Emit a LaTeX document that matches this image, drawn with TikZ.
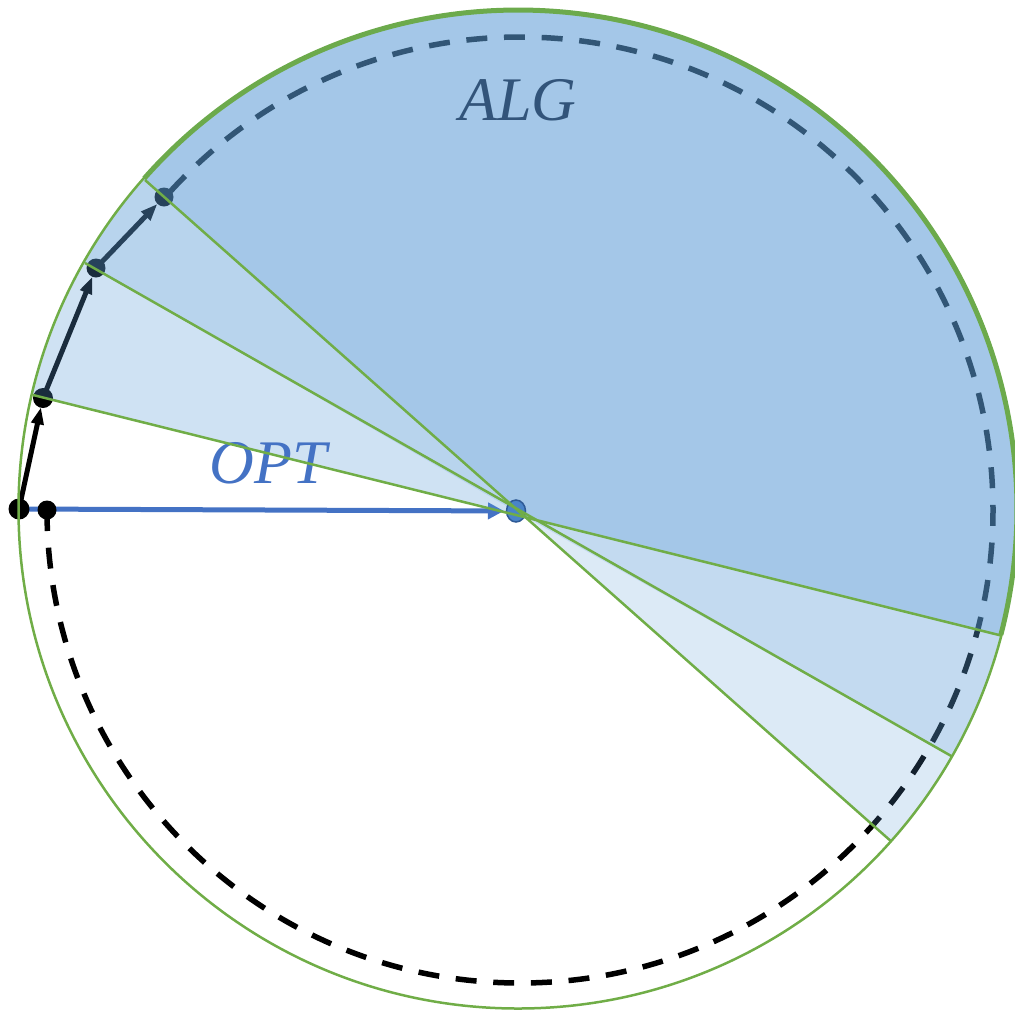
\documentclass[tikz,border=0pt]{standalone}
\usepackage{fontspec}
\setmainfont{Liberation Serif}
\usetikzlibrary{arrows.meta,calc}
\definecolor{ogreen}{HTML}{70AD47}
\definecolor{tgreen}{HTML}{6CAA4C}
\definecolor{sblue}{HTML}{5B9BD5}
\definecolor{oblue}{HTML}{4472C4}
\definecolor{algc}{HTML}{32547A}
\definecolor{cfill}{HTML}{4A84C8}
\definecolor{cedge}{HTML}{2E5A96}
\tikzset{
  greenline/.style={draw=ogreen, line width=2.5pt},
  dashline/.style={draw=black, line width=5.5pt, dash pattern=on 21pt off 16.7pt},
  blackarrow/.style={draw=black, line width=5pt, -{Triangle[length=17pt,width=12pt]}, shorten >=9.5pt},
  bluearrow/.style={draw=oblue, line width=5pt, -{Triangle[length=16pt,width=16pt]}, shorten >=12pt},
  wedge/.style={fill=sblue, draw=none},
  bigtext/.style={font=\fontsize{62}{62}\selectfont\itshape, anchor=base, inner sep=0pt}
}
\begin{document}
\begin{tikzpicture}[x=1pt,y=-1pt]
\useasboundingbox (0,0) rectangle (1015,1013);
% key points
\coordinate (O) at (518,509);   % outer circle centre
\coordinate (D) at (520,510);   % dashed circle centre
\coordinate (P) at (524,516);   % meeting point of the chords
\coordinate (c) at (516,511);   % target point
\coordinate (s0) at (19,509);
\coordinate (s1) at (43,398);
\coordinate (s2) at (96,268);
\coordinate (s3) at (164,197);
\coordinate (d) at (47,510);
\coordinate (l1) at (33,395);  \coordinate (r1) at (1003,636);
\coordinate (l2) at (85,263);  \coordinate (r2) at (953,757);
\coordinate (l3) at (145,180); \coordinate (r3) at (893,843);

% dashed circle (under the shading)
\draw[dashline] (d) arc[start angle=180, end angle=-138.7, radius=473];

% blue arrow
\draw[bluearrow] (s0) -- (c);

% black path
\draw[blackarrow] (s0) -- (s1);
\draw[blackarrow] (s1) -- (s2);
\draw[blackarrow] (s2) -- (s3);
\fill (s0) circle[radius=10.5];
\fill (d) circle[radius=9.5];
\fill (s1) circle[radius=10];
\fill (s2) circle[radius=9.5];
\fill (s3) circle[radius=9.5];

% shaded wedges
\begin{scope}
  \clip (O) circle[radius=499.5];
  \fill[wedge, fill opacity=0.29] (P) -- ($(P)!2!(l1)$) -- ($(P)!2!(l2)$) -- cycle;
  \fill[wedge, fill opacity=0.43] (P) -- ($(P)!2!(l2)$) -- ($(P)!2!(l3)$) -- cycle;
  \fill[wedge, fill opacity=0.555] (P) -- ($(P)!2!(l3)$) -- (-234,-700) -- (1700,-700) -- (1700,756) -- ($(P)!2!(r1)$) -- cycle;
  \fill[wedge, fill opacity=0.37] (P) -- ($(P)!2!(r1)$) -- ($(P)!2!(r2)$) -- cycle;
  \fill[wedge, fill opacity=0.21] (P) -- ($(P)!2!(r2)$) -- ($(P)!2!(r3)$) -- cycle;
\end{scope}

% labels
\node[bigtext, text=algc] (alg) at (518,120) {ALG};
\node[bigtext, text=oblue] (opt) at (268,483) {OPT};

% target
\filldraw[fill=cfill, draw=cedge, line width=1.5pt] (c) ellipse[x radius=9.5, y radius=11];

% chords and outer circle
\begin{scope}
  \clip (O) circle[radius=499.5];
  \draw[greenline] (l1) -- (r1);
  \draw[greenline] (l2) -- (r2);
  \draw[greenline] (l3) -- (r3);
\end{scope}
\draw[greenline] (O) circle[radius=499.5];
\draw[draw=tgreen, line width=5pt] ($(O)+(221.5:499)$) arc[start angle=221.5, end angle=374.6, radius=499];
\end{tikzpicture}
\end{document}
